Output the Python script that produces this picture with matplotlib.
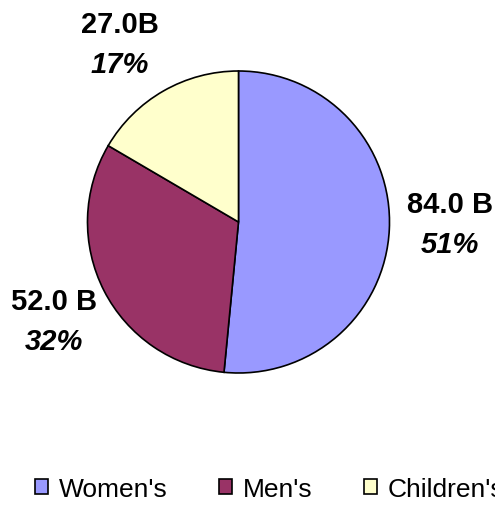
import numpy as np
import matplotlib.pyplot as plt

# datos del gráfico
categorias = ["Women's", "Men's", "Children's"]
valores = [84.0, 52.0, 27.0]
etiquetas = ["84.0 B", "52.0 B", "27.0B"]
porcentajes = ["51%", "32%", "17%"]
colores = ["#9999FF", "#993366", "#FFFFCC"]

plt.rcParams['font.family'] = ['Liberation Sans', 'DejaVu Sans']

W, H = 495, 506
fig = plt.figure(figsize=(W / 100, H / 100), dpi=100)

# ejes del pastel: centro (238, 223) px, radio 151 px
cx, cy, r = 238.5, 223, 151
ax = fig.add_axes([(cx - r) / W, (H - cy - r) / H, 2 * r / W, 2 * r / H])
wedges, _ = ax.pie(valores, colors=colores, startangle=90, counterclock=False,
                   wedgeprops=dict(edgecolor='black', linewidth=1.2))
ax.set_xlim(-1, 1)
ax.set_ylim(-1, 1)
ax.set_aspect('equal')
ax.axis('off')

# etiquetas de datos fuera del pastel
distancias = [1.40, 1.387, 1.416]
ajustes = [2.3, 1.1, 3.9]
for w, e, p, d, a in zip(wedges, etiquetas, porcentajes, distancias, ajustes):
    ang = np.deg2rad((w.theta1 + w.theta2) / 2 + a)
    x, y = d * np.cos(ang), d * np.sin(ang)
    ax.text(x, y + 0.132, e, ha='center', va='center', fontsize=21,
            fontweight='bold', clip_on=False)
    ax.text(x, y - 0.132, p, ha='center', va='center', fontsize=21,
            fontweight='bold', fontstyle='italic', clip_on=False)

# leyenda abajo (en el original también se corta por la derecha)
fig.legend(wedges, categorias, loc='center left',
           bbox_to_anchor=(35 / W, 1 - 490 / H), ncol=3, frameon=False,
           fontsize=19, handlelength=0.5, handleheight=0.5,
           handletextpad=0.4, columnspacing=1.95, borderaxespad=0,
           borderpad=0)

fig.savefig('out.png', dpi=100)
